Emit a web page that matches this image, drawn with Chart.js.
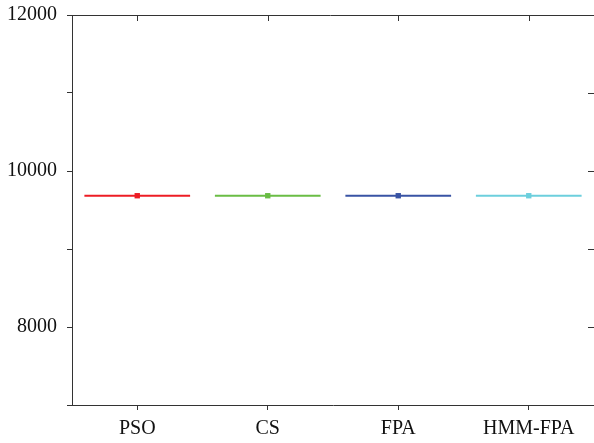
<!DOCTYPE html>
<html>
<head>
<meta charset="utf-8">
<script src="https://cdn.jsdelivr.net/npm/chart.js@4/dist/chart.umd.min.js"></script>
<style>
  html, body { margin: 0; padding: 0; background: #fff; overflow: hidden; }
  #wrap { width: 594px; height: 443px; }
</style>
</head>
<body>
<div id="wrap"><canvas id="canvas" width="594" height="443"></canvas></div>
<script>
// categories and the (collapsed) box plot medians
var algorithms = ['PSO', 'CS', 'FPA', 'HMM-FPA'];
var medians = [9683, 9683, 9683, 9683];
var colors = ['#ed1c24', '#6abd45', '#3953a4', '#6ccfdd'];
var yTicks = [7000, 8000, 9000, 10000, 11000, 12000];

var boxHalf = 0.405;   // half width of each box, in category units
var axisColor = '#333';
var font = { family: '"Liberation Serif", "Times New Roman", serif', size: 20 };

createChart();

function noPadding(scale) {
    scale.paddingTop = 0;
    scale.paddingBottom = 0;
    scale.paddingLeft = 0;
    scale.paddingRight = 0;
}

function createChart() {

    var datasets = [];
    algorithms.forEach(function (name, i) {
        datasets.push({
            label: name,
            data: [{ x: i - boxHalf, y: medians[i] }, { x: i + boxHalf, y: medians[i] }],
            borderColor: colors[i],
            borderWidth: 2,
            pointRadius: 0,
            showLine: true
        });
        datasets.push({
            label: name + ' median',
            data: [{ x: i, y: medians[i] }],
            backgroundColor: colors[i],
            borderColor: colors[i],
            pointStyle: 'rect',
            pointRadius: 3.8,
            borderWidth: 0,
            showLine: false
        });
        datasets.push({
            label: name + ' mark',
            data: [{ x: i, y: medians[i] }],
            borderColor: 'rgba(255,255,255,0.45)',
            pointStyle: 'crossRot',
            pointRadius: 2.5,
            borderWidth: 1,
            showLine: false
        });
    });

    // top border and the inward ticks of the (clipped) right border
    var frame = {
        id: 'frame',
        afterDraw: function (chart) {
            var ctx = chart.ctx;
            var a = chart.chartArea;
            var xs = chart.scales.x, ys = chart.scales.y;
            ctx.save();
            ctx.strokeStyle = axisColor;
            ctx.lineWidth = 1;
            ctx.beginPath();
            ctx.moveTo(a.left - 5, a.top + 0.5);
            ctx.lineTo(a.right, a.top + 0.5);
            algorithms.forEach(function (c, i) {
                var px = Math.round(xs.getPixelForValue(i)) + 0.5;
                ctx.moveTo(px, a.top);
                ctx.lineTo(px, a.top + 6);
            });
            yTicks.forEach(function (v) {
                var py = Math.round(ys.getPixelForValue(v)) + 0.5;
                ctx.moveTo(a.right, py);
                ctx.lineTo(a.right - 6, py);
            });
            ctx.stroke();
            ctx.restore();
        }
    };

    var ctx = document.getElementById('canvas').getContext('2d');
    var chart = new Chart(ctx, {
        type: 'scatter',
        data: { datasets: datasets },
        plugins: [frame],
        options: {
            responsive: false,
            animation: false,
            layout: { autoPadding: false, padding: { top: 15, right: 0, left: 0, bottom: 0 } },
            plugins: {
                legend: { display: false },
                tooltip: { enabled: false }
            },
            scales: {
                x: {
                    type: 'linear',
                    min: -0.5,
                    max: algorithms.length - 0.5,
                    afterBuildTicks: function (scale) {
                        scale.ticks = algorithms.map(function (c, i) { return { value: i }; });
                    },
                    afterFit: function (scale) { scale.height = 38; noPadding(scale); },
                    ticks: {
                        autoSkip: false,
                        maxRotation: 0,
                        padding: 7,
                        color: '#111',
                        font: font,
                        callback: function (value) { return algorithms[value]; }
                    },
                    grid: { drawOnChartArea: false, tickLength: 5, tickColor: axisColor },
                    border: { color: axisColor, width: 1 }
                },
                y: {
                    min: 7000,
                    max: 12000,
                    afterBuildTicks: function (scale) {
                        scale.ticks = yTicks.map(function (v) { return { value: v }; });
                    },
                    afterFit: function (scale) { scale.width = 72; noPadding(scale); },
                    ticks: {
                        padding: 10,
                        color: '#111',
                        font: font,
                        callback: function (value) { return value % 2000 === 0 ? value : ''; }
                    },
                    grid: { drawOnChartArea: false, tickLength: 5, tickColor: axisColor },
                    border: { color: axisColor, width: 1 }
                }
            }
        }
    });
}
</script>
</body>
</html>
